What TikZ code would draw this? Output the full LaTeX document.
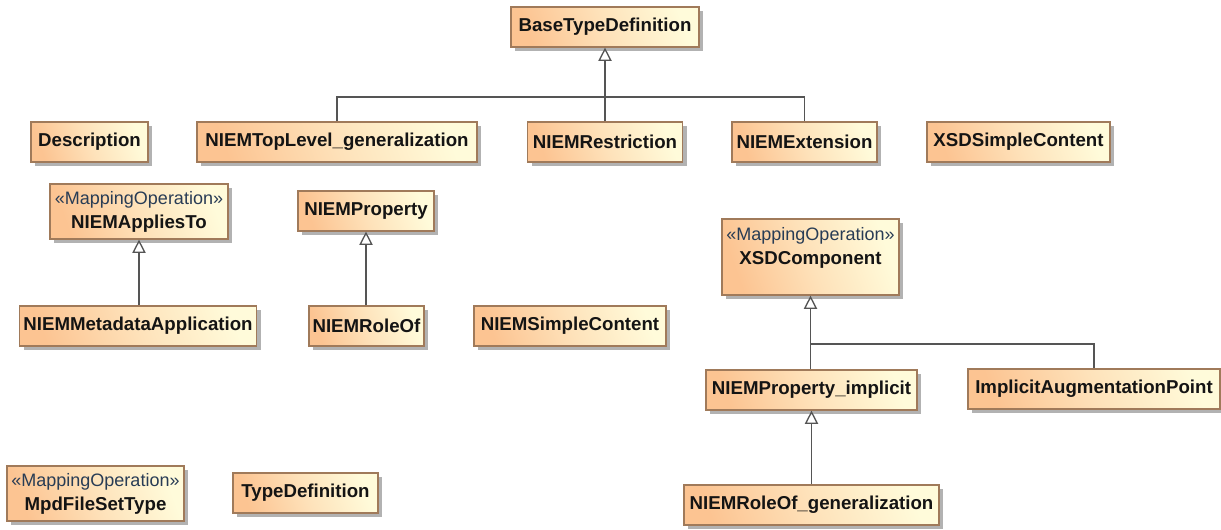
\documentclass[tikz,border=0pt]{standalone}
\usepackage{fontspec}
\setmainfont{Liberation Sans}
\usetikzlibrary{arrows.meta,shadows}
\definecolor{boxL}{RGB}{252,196,146}
\definecolor{boxM}{RGB}{254,226,186}
\definecolor{boxR}{RGB}{255,251,218}
\definecolor{boxB}{RGB}{160,122,90}
\definecolor{lineC}{RGB}{85,85,85}
\definecolor{stereoC}{RGB}{40,60,85}
\definecolor{txtC}{RGB}{20,20,20}
\newcommand{\stereo}{\fontsize{13.5}{18}\selectfont\mdseries\color{stereoC}}
\begin{document}
\begin{tikzpicture}[x=0.75pt,y=-0.75pt,
  bw/.style={minimum width=#1*0.75pt},
  bh/.style={minimum height=#1*0.75pt},
  boxfont/.style={font=\fontsize{14}{18}\selectfont\bfseries, text=txtC, align=center},
  umlbox/.style={draw=boxB, line width=0.9pt, left color=boxL, right color=boxR, middle color=boxM, shading angle=110,
    drop shadow={shadow xshift=3pt, shadow yshift=-3pt, fill=black!30, opacity=1},
    minimum height=30pt, inner sep=0pt, boxfont},
  txtonly/.style={inner sep=0pt, boxfont},
  conn/.style={draw=lineC, line width=1pt},
  gen/.style={conn, -{Triangle[length=10pt, width=10pt, fill=white]}}
]
\fill[white] (0,0) rectangle (1221,529);
\useasboundingbox (0,0) rectangle (1221,529);

\node[umlbox,bw=188] (base) at (605,27) {BaseTypeDefinition};
\node[umlbox,bw=117] (desc) at (89.5,142) {Description};
\node[umlbox,bw=280] (tl) at (337,142) {NIEMTopLevel\_generalization};
\node[umlbox,bw=155] (restr) at (605,142) {NIEMRestriction};
\node[umlbox,bw=145] (ext) at (804.5,142) {NIEMExtension};
\node[umlbox,bw=183] (xsdsc) at (1018.5,142) {XSDSimpleContent};
\node[umlbox,bw=178,bh=55] (applies) at (139,211.5) {{\stereo «MappingOperation»}\\NIEMAppliesTo};
\node[umlbox,bw=237] (meta) at (138,326) {NIEMMetadataApplication};
\node[umlbox,bw=136] (prop) at (366,211) {NIEMProperty};
\node[umlbox,bw=115] (roleof) at (366.5,326) {NIEMRoleOf};
\node[umlbox,bw=192] (simplec) at (570,326) {NIEMSimpleContent};
\node[umlbox,bw=177,bh=76] (xsdcomp) at (810.5,257) {};
\node[txtonly] (xsdcompT) at (810.5,247.5) {{\stereo «MappingOperation»}\\XSDComponent};
\node[umlbox,bw=211] (propimpl) at (811.5,390) {NIEMProperty\_implicit};
\node[umlbox,bw=252] (iap) at (1094,389) {ImplicitAugmentationPoint};
\node[umlbox,bw=255] (rolegen) at (811.5,505) {NIEMRoleOf\_generalization};
\node[umlbox,bw=177,bh=55] (mpd) at (95.5,493.5) {{\stereo «MappingOperation»}\\MpdFileSetType};
\node[umlbox,bw=145] (typedef) at (305.5,493) {TypeDefinition};

% BaseTypeDefinition generalization tree
\coordinate (busTop) at (605,97);
\draw[gen] (restr.north -| base.south) -- (base.south);
\draw[conn] (tl.north) |- (busTop) -| (ext.north);

% NIEMAppliesTo
\draw[gen] (meta.north -| applies.south) -- (applies.south);
% NIEMProperty
\draw[gen] (roleof.north -| prop.south) -- (prop.south);

% XSDComponent tree
\coordinate (busX) at (811,344);
\draw[gen] (propimpl.north -| xsdcomp.south) -- (xsdcomp.south);
\draw[conn] (busX) -| (iap.north);
% NIEMProperty_implicit
\draw[gen] (rolegen.north -| propimpl.south) -- (propimpl.south);
\end{tikzpicture}
\end{document}
